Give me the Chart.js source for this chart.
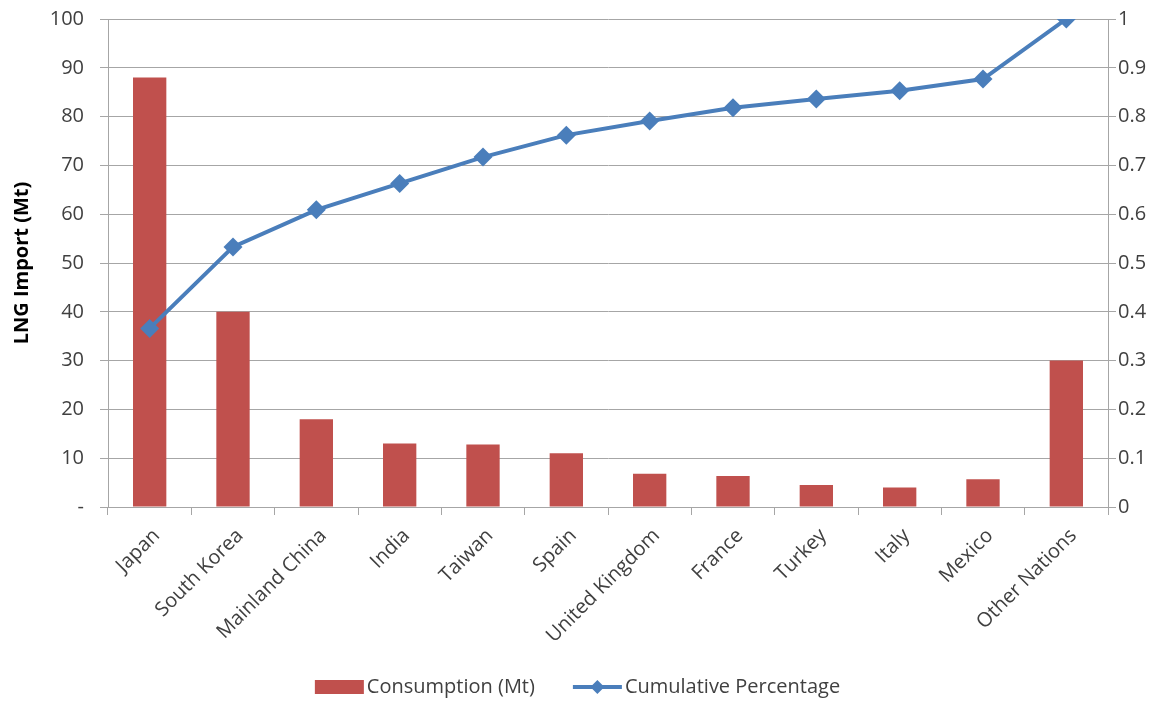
<!DOCTYPE html>
<html>
<head>
<meta charset="utf-8">
<title>LNG Import by Country</title>
<script src="https://cdn.jsdelivr.net/npm/chart.js@4"></script>
<style>
  html, body { margin: 0; padding: 0; background: #ffffff; }
  #wrap { width: 1167px; height: 702px; position: relative; }
</style>
</head>
<body>
<div id="wrap"><canvas id="chart"></canvas></div>
<script>
// LNG imports by country (Mt) with the running cumulative share
const countries = ['Japan', 'South Korea', 'Mainland China', 'India', 'Taiwan', 'Spain',
  'United Kingdom', 'France', 'Turkey', 'Italy', 'Mexico', 'Other Nations'];
const consumption = [88, 40, 18, 13, 12.8, 11, 6.8, 6.35, 4.5, 4, 5.7, 30];
const cumulative = [0.366, 0.533, 0.609, 0.663, 0.717, 0.762, 0.791, 0.818, 0.836, 0.853, 0.877, 1.0];
const leftTickLabels = ['-', '10', '20', '30', '40', '50', '60', '70', '80', '90', '100'];
const rightTickLabels = ['0', '0.1', '0.2', '0.3', '0.4', '0.5', '0.6', '0.7', '0.8', '0.9', '1'];
const seriesNames = ['Consumption (Mt)', 'Cumulative Percentage'];

const BAR_COLOR = '#c0504d';
const LINE_COLOR = '#4a7ebb';
const GRID_COLOR = '#a6a6a6';
const TEXT_COLOR = '#404040';
const FONT = "'Open Sans', 'Liberation Sans', sans-serif";

// Legend under the plot: a red swatch for the bars, a line-with-diamond swatch for the line
const bottomLegend = {
  id: 'bottomLegend',
  afterDraw(chart) {
    const ctx = chart.ctx;
    const ds = chart.data.datasets;
    const bars = ds.find(d => d.type === 'bar');
    const line = ds.find(d => d.type === 'line');
    ctx.save();
    ctx.font = '20px ' + FONT;
    ctx.textBaseline = 'middle';
    ctx.textAlign = 'left';
    const swatchW = 49, gap = 3, itemGap = 38;
    const w0 = ctx.measureText(bars.label).width;
    const w1 = ctx.measureText(line.label).width;
    const total = swatchW + gap + w0 + itemGap + swatchW + gap + w1;
    let x = chart.width / 2 - total / 2 - 6;
    const y = 687;
    ctx.fillStyle = bars.backgroundColor;
    ctx.fillRect(x, y - 7, swatchW, 14);
    x += swatchW + gap;
    ctx.fillStyle = TEXT_COLOR;
    ctx.fillText(bars.label, x, y);
    x += w0 + itemGap;
    ctx.strokeStyle = line.borderColor;
    ctx.lineWidth = 4;
    ctx.beginPath();
    ctx.moveTo(x, y);
    ctx.lineTo(x + swatchW, y);
    ctx.stroke();
    const cx = x + swatchW / 2, r = 7;
    ctx.fillStyle = line.pointBackgroundColor;
    ctx.beginPath();
    ctx.moveTo(cx, y - r);
    ctx.lineTo(cx + r, y);
    ctx.lineTo(cx, y + r);
    ctx.lineTo(cx - r, y);
    ctx.closePath();
    ctx.fill();
    x += swatchW + gap;
    ctx.fillStyle = TEXT_COLOR;
    ctx.fillText(line.label, x, y);
    ctx.restore();
  }
};

// Value axes: fixed widths and no extra label overflow at the ends
function fitValueAxis(width) {
  return (scale) => {
    scale.width = width;
    scale.paddingTop = 0;
    scale.paddingBottom = 0;
  };
}

new Chart(document.getElementById('chart'), {
  type: 'bar',
  data: {
    labels: countries,
    datasets: [
      {
        type: 'line',
        label: seriesNames[1],
        data: cumulative,
        yAxisID: 'y1',
        borderColor: LINE_COLOR,
        backgroundColor: LINE_COLOR,
        pointBackgroundColor: LINE_COLOR,
        pointBorderColor: LINE_COLOR,
        borderWidth: 4,
        pointStyle: 'rectRot',
        pointRadius: 9.5,
        pointBorderWidth: 0,
        tension: 0,
        order: 0
      },
      {
        type: 'bar',
        label: seriesNames[0],
        data: consumption,
        yAxisID: 'y',
        backgroundColor: BAR_COLOR,
        categoryPercentage: 1,
        barPercentage: 0.4,
        order: 1
      }
    ]
  },
  options: {
    responsive: true,
    maintainAspectRatio: false,
    animation: false,
    layout: { padding: { top: 19, left: 0, right: 0, bottom: 40 } },
    plugins: {
      legend: { display: false },
      tooltip: { enabled: false }
    },
    scales: {
      x: {
        offset: true,
        grid: {
          offset: true,
          drawOnChartArea: false,
          drawTicks: true,
          tickLength: 8,
          color: GRID_COLOR
        },
        border: { color: GRID_COLOR, width: 1 },
        ticks: {
          color: TEXT_COLOR,
          font: { family: FONT, size: 20 },
          minRotation: 45,
          maxRotation: 45,
          padding: 9,
          labelOffset: 7,
          autoSkip: false
        },
        afterFit(scale) { scale.height = 155; }
      },
      y: {
        position: 'left',
        min: 0,
        max: 100,
        ticks: {
          stepSize: 10,
          color: TEXT_COLOR,
          font: { family: FONT, size: 20 },
          padding: 16,
          callback: (v, i) => leftTickLabels[i]
        },
        grid: { color: GRID_COLOR, tickLength: 8, drawTicks: true },
        border: { color: GRID_COLOR, width: 1 },
        title: {
          display: true,
          text: 'LNG Import (Mt)',
          color: '#000000',
          font: { family: FONT, size: 20, weight: 'bold' },
          padding: { top: 10, bottom: 0 }
        },
        afterFit: fitValueAxis(108)
      },
      y1: {
        position: 'right',
        min: 0,
        max: 1,
        ticks: {
          stepSize: 0.1,
          color: TEXT_COLOR,
          font: { family: FONT, size: 20 },
          padding: 2,
          callback: (v, i) => rightTickLabels[i]
        },
        grid: { drawOnChartArea: false, color: GRID_COLOR, tickLength: 8 },
        border: { color: GRID_COLOR, width: 1 },
        afterFit: fitValueAxis(59)
      }
    }
  },
  plugins: [bottomLegend]
});
</script>
</body>
</html>
